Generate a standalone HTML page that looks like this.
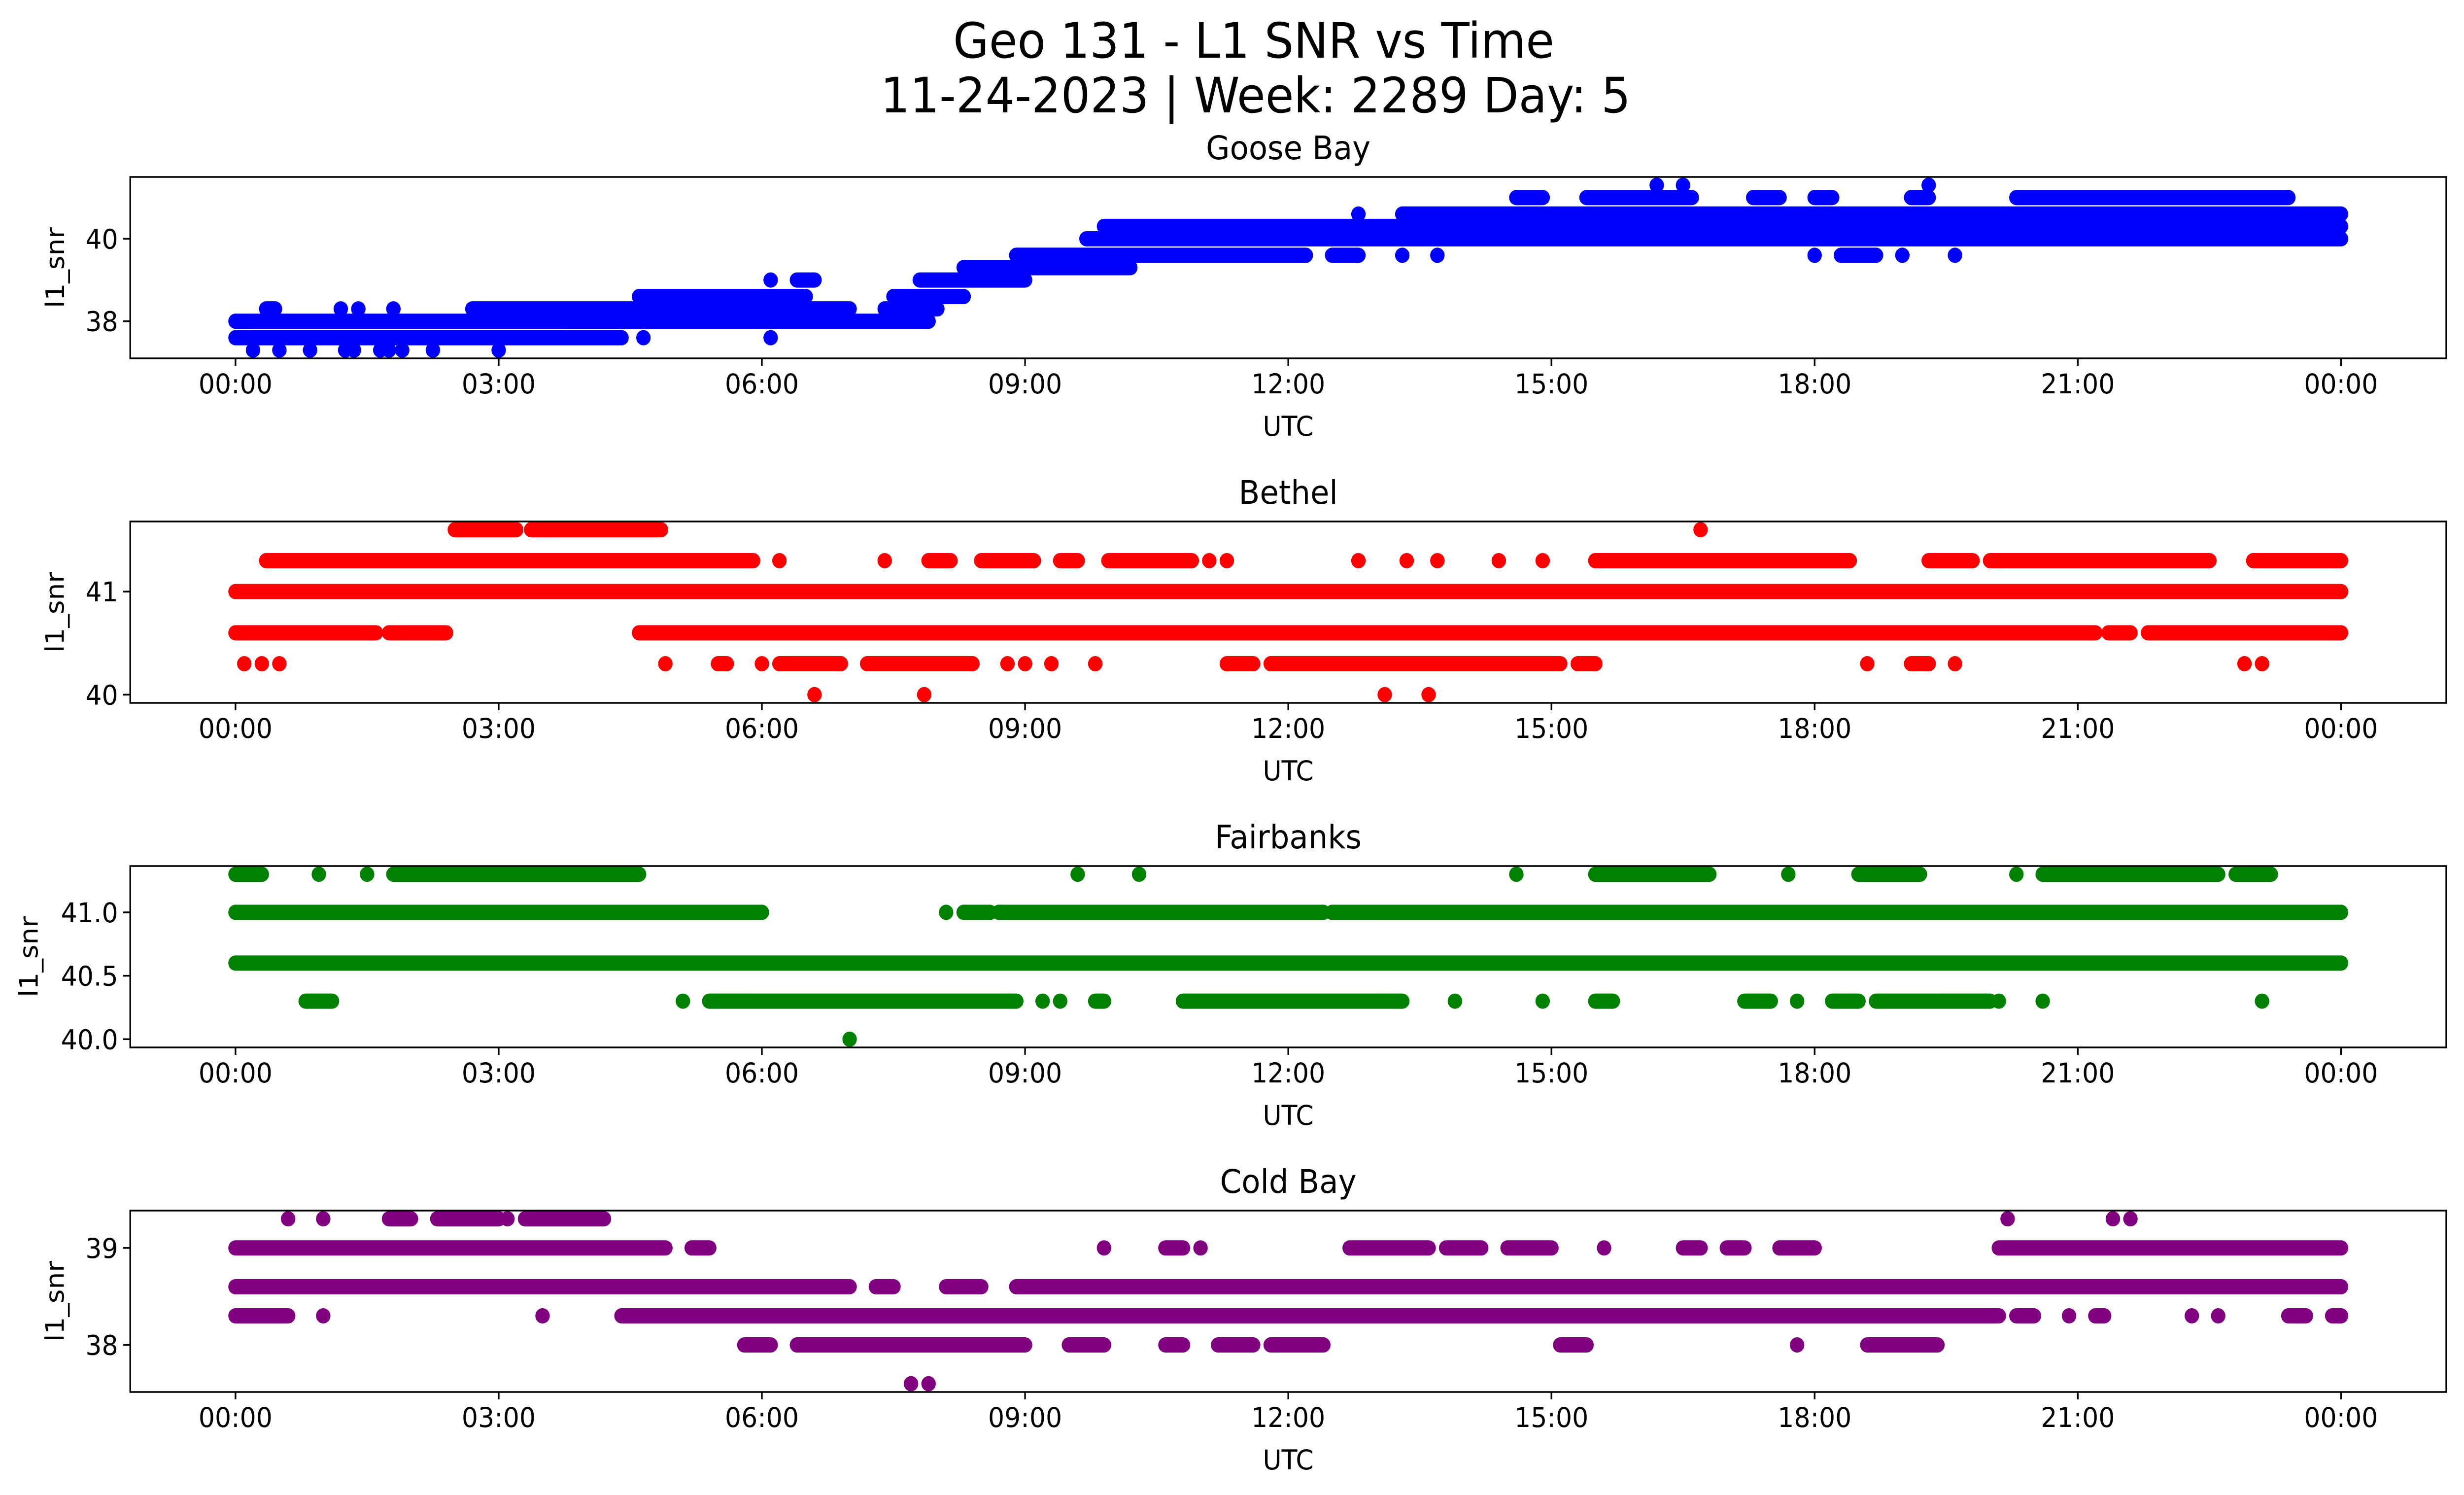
<!DOCTYPE html>
<html><head><meta charset="utf-8"><style>
html,body{margin:0;padding:0;background:#fff;width:100%;height:100%;overflow:hidden;}
svg{display:block;position:absolute;left:0;top:0;width:100%;height:100%;font-family:"DejaVu Sans","Liberation Sans",sans-serif;}
</style></head><body>
<svg id="fig" viewBox="0 0 5279 3033" preserveAspectRatio="none" xmlns="http://www.w3.org/2000/svg">
<rect width="5279" height="3033" fill="#fff"/>
<text x="2686" y="117" font-size="99" text-anchor="middle">Geo 131 - L1 SNR vs Time</text>
<text x="2690" y="228" font-size="99" text-anchor="middle">11-24-2023 | Week: 2289 Day: 5</text>
<g id="panels"></g>
</svg>
<script>
const xTickLabels = ["00:00","03:00","06:00","09:00","12:00","15:00","18:00","21:00","00:00"];
const xTickHours = [0,3,6,9,12,15,18,21,24];
const stations = ["Goose Bay","Bethel","Fairbanks","Cold Bay"];
const colors = ["#0000ff","#ff0000","#008000","#800080"];
const yTicks = [[38,40],[40,41],[40.0,40.5,41.0],[38,39]];
const yTickLabels = [["38","40"],["40","41"],["40.0","40.5","41.0"],["38","39"]];
// runs: [startHour, endHour, snr]
const gooseRuns = [[0,7.9,38.0],[0,4.4,37.6],[0.35,0.45,38.3],[2.7,7.0,38.3],[7.4,8.0,38.3],[4.6,6.5,38.6],[7.5,8.3,38.6],[6.4,6.6,39.0],[7.8,9.0,39.0],[8.3,10.2,39.3],[8.9,12.2,39.6],[12.5,12.8,39.6],[18.3,18.7,39.6],[9.7,24,40.0],[9.9,24,40.3],[13.3,24,40.6],[14.6,14.9,41.0],[15.4,16.6,41.0],[17.3,17.6,41.0],[18.0,18.2,41.0],[19.1,19.3,41.0],[20.3,23.4,41.0]];
const goosePoints = [[0.2,37.3],[0.5,37.3],[0.85,37.3],[1.25,37.3],[1.35,37.3],[1.65,37.3],[1.75,37.3],[1.9,37.3],[2.25,37.3],[3.0,37.3],[4.65,37.6],[6.1,37.6],[1.2,38.3],[1.4,38.3],[1.8,38.3],[6.1,39.0],[13.3,39.6],[13.7,39.6],[18.0,39.6],[19.0,39.6],[19.6,39.6],[12.8,40.6],[16.2,41.3],[16.5,41.3],[19.3,41.3]];
const bethelRuns = [[2.5,3.2,41.6],[3.37,4.85,41.6],[0.35,5.9,41.3],[7.9,8.15,41.3],[8.5,9.1,41.3],[9.4,9.6,41.3],[9.95,10.9,41.3],[15.5,18.4,41.3],[19.3,19.8,41.3],[20.0,22.5,41.3],[23.0,24,41.3],[0,24,41.0],[0,1.6,40.6],[1.75,2.4,40.6],[4.6,21.2,40.6],[21.35,21.6,40.6],[21.8,24,40.6],[5.5,5.6,40.3],[6.2,6.9,40.3],[7.2,8.4,40.3],[11.3,11.6,40.3],[11.8,15.1,40.3],[15.3,15.5,40.3],[19.1,19.3,40.3]];
const bethelPoints = [[16.7,41.6],[6.2,41.3],[7.4,41.3],[11.1,41.3],[11.3,41.3],[12.8,41.3],[13.35,41.3],[13.7,41.3],[14.4,41.3],[14.9,41.3],[0.1,40.3],[0.3,40.3],[0.5,40.3],[4.9,40.3],[6.0,40.3],[8.8,40.3],[9.0,40.3],[9.3,40.3],[9.8,40.3],[18.6,40.3],[19.6,40.3],[22.9,40.3],[23.1,40.3],[6.6,40.0],[7.85,40.0],[13.1,40.0],[13.6,40.0]];
const fairRuns = [[0,0.3,41.3],[1.8,4.6,41.3],[15.5,16.8,41.3],[18.5,19.2,41.3],[20.6,22.6,41.3],[22.8,23.2,41.3],[0,6.0,41.0],[8.3,8.6,41.0],[8.7,12.4,41.0],[12.5,24,41.0],[0,24,40.6],[0.8,1.1,40.3],[5.4,8.9,40.3],[9.8,9.9,40.3],[10.8,13.3,40.3],[15.5,15.7,40.3],[17.2,17.5,40.3],[18.2,18.5,40.3],[18.7,20.0,40.3]];
const fairPoints = [[0.95,41.3],[1.5,41.3],[9.6,41.3],[10.3,41.3],[14.6,41.3],[17.7,41.3],[20.3,41.3],[8.1,41.0],[5.1,40.3],[9.2,40.3],[9.4,40.3],[13.9,40.3],[14.9,40.3],[17.8,40.3],[20.1,40.3],[20.6,40.3],[23.1,40.3],[7.0,40.0]];
const coldRuns = [[1.75,2.0,39.3],[2.3,3.0,39.3],[3.3,4.2,39.3],[0,4.9,39.0],[5.2,5.4,39.0],[10.6,10.8,39.0],[12.7,13.6,39.0],[13.8,14.2,39.0],[14.5,15.0,39.0],[16.5,16.7,39.0],[17.0,17.2,39.0],[17.6,18.0,39.0],[20.1,24,39.0],[0,7.0,38.6],[7.3,7.5,38.6],[8.1,8.5,38.6],[8.9,24,38.6],[0,0.6,38.3],[4.4,20.1,38.3],[20.3,20.5,38.3],[21.2,21.3,38.3],[23.4,23.6,38.3],[23.9,24,38.3],[5.8,6.1,38.0],[6.4,9.0,38.0],[9.5,9.9,38.0],[10.6,10.8,38.0],[11.2,11.6,38.0],[11.8,12.4,38.0],[15.1,15.4,38.0],[18.6,19.4,38.0]];
const coldPoints = [[0.6,39.3],[1.0,39.3],[3.1,39.3],[20.2,39.3],[21.4,39.3],[21.6,39.3],[9.9,39.0],[11.0,39.0],[15.6,39.0],[1.0,38.3],[3.5,38.3],[20.9,38.3],[22.3,38.3],[22.6,38.3],[17.8,38.0],[7.7,37.6],[7.9,37.6]];
const allRuns = [gooseRuns,bethelRuns,fairRuns,coldRuns];
const allPoints = [goosePoints,bethelPoints,fairPoints,coldPoints];

const NS = "http://www.w3.org/2000/svg";
const L = 279, R = 5241, H = 368, R0 = 15.5;
const tops = [359,1058,1757,2456];
function mk(tag, attrs, parent){ const e=document.createElementNS(NS,tag); for(const k in attrs) e.setAttribute(k,attrs[k]); parent.appendChild(e); return e; }
function xScale(h){ return L + (R-L)*(h + 1.2)/26.4; }
const root = document.getElementById('panels');
stations.forEach((st,i)=>{
  const g = mk('g',{},root);
  
  
  const top = tops[i], bot = top + H;
  const vals = [];
  allRuns[i].forEach(r=>vals.push(r[2])); allPoints[i].forEach(p=>vals.push(p[1]));
  const mn = Math.min(...vals), mx = Math.max(...vals), pad = (mx-mn)*0.05;
  const y0 = mn - pad, y1 = mx + pad;
  const yScale = v => bot - (v - y0)/(y1 - y0)*H;
  const clipId = 'clip'+i;
  const cp = mk('clipPath',{id:clipId},g); mk('rect',{x:L,y:top,width:R-L,height:H},cp);
  const marks = mk('g',{'clip-path':'url(#'+clipId+')'},g);
  allRuns[i].forEach(r=>{
    const ln = mk('line',{x1:xScale(r[0]),x2:xScale(r[1]),y1:yScale(r[2]),y2:yScale(r[2]),stroke:colors[i],'stroke-width':R0*2,'stroke-linecap':'round'},marks);
    
    
  });
  allPoints[i].forEach(p=>{
    const c = mk('circle',{cx:xScale(p[0]),cy:yScale(p[1]),r:R0,fill:colors[i]},marks);
    
    
  });
  const fr = mk('rect',{x:L,y:top,width:R-L,height:H,fill:'none',stroke:'#000','stroke-width':3.5},g);
  
  
  xTickHours.forEach((h,k)=>{
    const x = xScale(h);
    mk('line',{x1:x,x2:x,y1:bot,y2:bot+15,stroke:'#000','stroke-width':3.5},g);
    const t = mk('text',{x:x,y:bot+71,'font-size':55,'text-anchor':'middle'},g);
    t.textContent = xTickLabels[k];
    
    
  });
  yTicks[i].forEach((v,k)=>{
    const y = yScale(v);
    mk('line',{x1:L-15,x2:L,y1:y,y2:y,stroke:'#000','stroke-width':3.5},g);
    const t = mk('text',{x:L-26,y:y+20,'font-size':55,'text-anchor':'end'},g);
    t.textContent = yTickLabels[i][k];
    
    
  });
  const xl = mk('text',{x:(L+R)/2,y:bot+157,'font-size':55,'text-anchor':'middle'},g);
  xl.textContent = 'UTC';
  
  
  const yx = (i===2) ? 62 : 118;
  const yl = mk('text',{x:yx,y:top+H/2,'font-size':55,'text-anchor':'middle',transform:'rotate(-90 '+yx+' '+(top+H/2)+')','dominant-baseline':'central'},g);
  yl.textContent = 'l1_snr';
  
  
  const tt = mk('text',{x:(L+R)/2,y:top-36,'font-size':66,'text-anchor':'middle'},g);
  tt.textContent = st;
  
  
});
</script>
</body></html>
